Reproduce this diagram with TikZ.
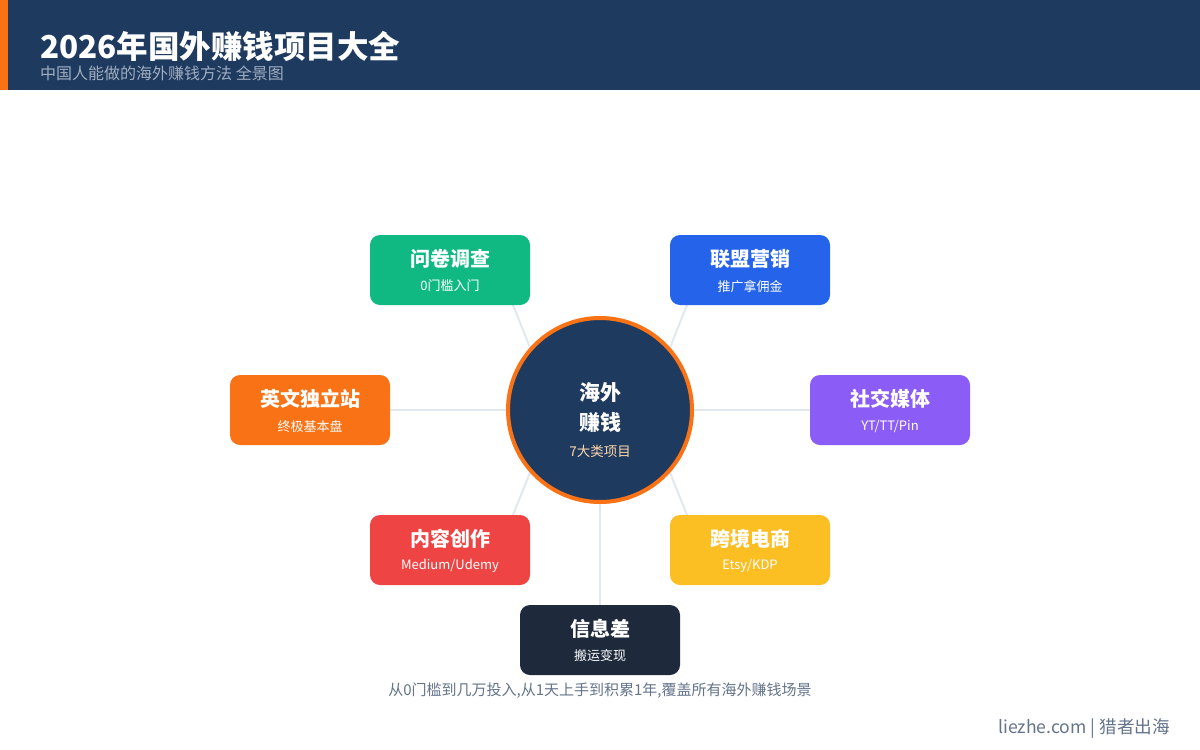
\documentclass[tikz,border=0pt]{standalone}
\usepackage{fontspec}
\setmainfont{Noto Sans CJK SC}
\usetikzlibrary{backgrounds}
\definecolor{navy}{HTML}{1E3A5F}
\definecolor{accent}{HTML}{F97316}
\definecolor{subgray}{HTML}{A0AEC0}
\definecolor{linegray}{HTML}{E2E8F0}
\definecolor{capgray}{HTML}{64748B}
\definecolor{cgreen}{HTML}{10B981}
\definecolor{cblue}{HTML}{2563EB}
\definecolor{corange}{HTML}{F97316}
\definecolor{cpurple}{HTML}{8B5CF6}
\definecolor{cred}{HTML}{EF4444}
\definecolor{cyellow}{HTML}{FBBF24}
\definecolor{cdark}{HTML}{1E293B}
\definecolor{peach}{HTML}{FED7AA}
\tikzset{
  cat/.style={rounded corners=10pt, minimum width=160pt, minimum height=70pt, inner sep=0pt},
  cattitle/.style={text=white, inner sep=0pt, font=\fontsize{20}{24}\selectfont\bfseries},
  catsub/.style={text=white, inner sep=0pt, font=\fontsize{13}{15}\selectfont},
  conn/.style={draw=linegray, line width=2pt},
}
% #1 name, #2 x, #3 y, #4 colour, #5 title, #6 subtitle
\newcommand{\catbox}[6]{%
  \node[cat, fill=#4] (#1) at (#2,#3) {};
  \node[cattitle] (#1t) at (#2,#3-11) {#5};
  \node[catsub] (#1s) at (#2,#3+16) {#6};
}
\begin{document}
\begin{tikzpicture}[x=1pt,y=-1pt]
\useasboundingbox (0,0) rectangle (1200,750);
\catbox{n1}{450}{270}{cgreen}{问卷调查}{0门槛入门}
\catbox{n2}{750}{270}{cblue}{联盟营销}{推广拿佣金}
\catbox{n3}{310}{410}{corange}{英文独立站}{终极基本盘}
\catbox{n4}{890}{410}{cpurple}{社交媒体}{YT/TT/Pin}
\catbox{n5}{450}{550}{cred}{内容创作}{Medium/Udemy}
\catbox{n6}{750}{550}{cyellow}{跨境电商}{Etsy/KDP}
\catbox{n7}{600}{640}{cdark}{信息差}{搬运变现}
\node[circle, fill=navy, draw=accent, line width=4pt, minimum size=184pt, inner sep=0pt] (hub) at (600,410) {};
\node[text=white, align=center, inner sep=0pt, font=\fontsize{21}{30}\selectfont\bfseries] (hubt) at (600,407) {海外\\赚钱};
\node[text=peach, inner sep=0pt, font=\fontsize{13.5}{16}\selectfont] (hubs) at (600,451) {7大类项目};
% connector end points (hidden under the boxes and the hub)
\coordinate (a1) at (503,280); \coordinate (b1) at (543,380);
\coordinate (a2) at (697,280); \coordinate (b2) at (657,380);
\coordinate (a5) at (503,540); \coordinate (b5) at (543,440);
\coordinate (a6) at (697,540); \coordinate (b6) at (657,440);
\begin{scope}[on background layer]
\fill[white] (0,0) rectangle (1200,750);
\draw[conn] (a1) -- (b1);
\draw[conn] (a2) -- (b2);
\draw[conn] (a5) -- (b5);
\draw[conn] (a6) -- (b6);
\draw[conn] (hub.center) -- (n3.center);
\draw[conn] (hub.center) -- (n4.center);
\draw[conn] (hub.center) -- (n7.center);
\end{scope}
\fill[navy] (0,0) rectangle (1200,90);
\fill[accent] (0,0) rectangle (8,90);
\node[anchor=base west, text=white, inner sep=0pt, font=\fontsize{31.5}{36}\selectfont\bfseries] (title) at (40,58) {2026年国外赚钱项目大全};
\node[anchor=base west, text=subgray, inner sep=0pt, font=\fontsize{16}{19}\selectfont] (subtitle) at (40,79) {中国人能做的海外赚钱方法 全景图};
\node[text=capgray, inner sep=0pt, font=\fontsize{15}{18}\selectfont] (cap) at (600,691) {从0门槛到几万投入,从1天上手到积累1年,覆盖所有海外赚钱场景};
\node[anchor=east, text=capgray, inner sep=0pt, font=\fontsize{17.6}{21}\selectfont] (foot) at (1170,729) {liezhe.com | 猎者出海};
\end{tikzpicture}
\end{document}
